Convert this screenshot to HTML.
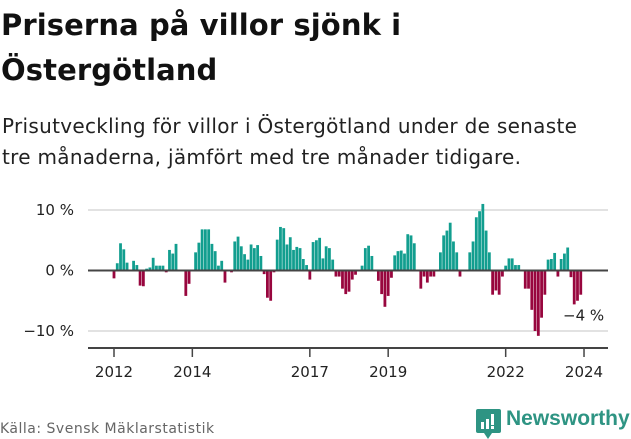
<!DOCTYPE html>
<html><head><meta charset="utf-8">
<style>
html,body{margin:0;padding:0;background:#fff;}
body{width:631px;height:439px;overflow:hidden;position:relative;font-family:"DejaVu Sans","Liberation Sans",sans-serif;color:#111;}
h1{position:absolute;left:1px;top:3px;margin:0;font-size:29px;line-height:45px;font-weight:bold;letter-spacing:0.1px;white-space:nowrap;}
.sub{position:absolute;left:2px;top:111px;margin:0;font-size:20px;line-height:31px;color:#222;letter-spacing:0.3px;white-space:nowrap;}
svg{position:absolute;left:0;top:0;}
.src{position:absolute;left:0;top:421px;font-size:14px;color:#666;letter-spacing:0.5px;}
.logo{position:absolute;left:476px;top:409px;}
.logo-text{position:absolute;left:506px;top:407px;font-size:21px;color:#2e9483;font-family:"Liberation Sans",sans-serif;font-weight:bold;}
</style></head><body>
<h1>Priserna på villor sjönk i<br>Östergötland</h1>
<p class="sub">Prisutveckling för villor i Östergötland under de senaste<br>tre månaderna, jämfört med tre månader tidigare.</p>
<svg id="chart" width="631" height="439"></svg>
<div class="src">Källa: Svensk Mäklarstatistik</div>
<svg class="logo" width="26" height="30">
<rect x="0" y="0" width="25" height="24" rx="2" fill="#2e9483"/>
<polygon points="8,24 16,24 12,30" fill="#2e9483"/>
<rect x="5" y="13" width="3" height="7" fill="#fff"/><rect x="10" y="10" width="3" height="10" fill="#fff"/><rect x="15" y="5" width="3" height="11" fill="#fff"/><rect x="15" y="17" width="3" height="3" fill="#fff"/>
</svg>
<div class="logo-text">Newsworthy</div>
<script>
const values = [-1.3,1.2,4.5,3.5,1.3,0,1.6,0.9,-2.5,-2.6,0.3,0.5,2.1,0.8,0.8,0.8,-0.3,3.4,2.8,4.4,0,0,-4.2,-2.2,0,3,4.6,6.8,6.8,6.8,4.4,3.2,0.8,1.6,-2,0,-0.3,4.8,5.6,4,2.7,1.8,4.3,3.7,4.2,2.4,-0.6,-4.5,-5,-0.3,5.1,7.2,7,4.3,5.5,3.4,3.9,3.7,1.9,0.9,-1.5,4.7,5,5.4,2,4,3.7,1.8,-1,-1,-3,-3.9,-3.5,-1.5,-0.7,0,0.8,3.7,4.1,2.4,0.1,-1.7,-3.9,-6,-4.2,-1.2,2.5,3.2,3.3,2.8,6,5.8,4.5,0,-3,-1,-2,-1,-1,0,3,5.8,6.6,7.9,4.8,3,-1,0,0,3,4.8,8.8,9.8,11,6.6,3,-4,-3.3,-4,-1,0.8,2,2,0.9,0.9,0,-3,-3,-6.5,-10,-10.8,-7.8,-4,1.8,1.9,2.9,-1,1.9,2.8,3.8,-1.1,-5.6,-5,-4];
const yTicks = [10,0,-10];
const yTickLabels = ["10 %","0 %","\u221210 %"];
const xTickYears = [2012,2014,2017,2019,2022,2024];
const lastLabel = "\u22124 %";
const NS="http://www.w3.org/2000/svg";
const svg=document.getElementById('chart');
const x0=114, step=3.264, zeroY=270.5, pxPer=6.05;
const xScale=i=>x0+step*i;
const yScale=v=>zeroY-pxPer*v;
function mk(tag,attrs){const e=document.createElementNS(NS,tag);for(const k in attrs)e.setAttribute(k,attrs[k]);svg.appendChild(e);return e;}
yTicks.forEach((t,k)=>{
  const y=yScale(t);
  if(t!==0){const g=mk('line',{x1:88,x2:608,y1:y,y2:y,stroke:'#e2e2e2','stroke-width':2});
  
  }
  const tx=mk('text',{x:74,y:y+5,'text-anchor':'end','font-size':15,fill:'#222'});
  tx.textContent=yTickLabels[k];
  
  
});
values.forEach((v,i)=>{
  const cx=xScale(i), y=yScale(v);
  const r=mk('rect',{x:cx-1.4,y:Math.min(y,zeroY),width:2.8,height:Math.abs(y-zeroY),fill:v>=0?'#129e8f':'#98063e'});
  
  
});
const z=mk('line',{x1:88,x2:608,y1:zeroY,y2:zeroY,stroke:'#444','stroke-width':2});


const ax=mk('line',{x1:88,x2:608,y1:348,y2:348,stroke:'#444','stroke-width':2});


xTickYears.forEach(yr=>{
  const x=xScale((yr-2012)*12);
  const t=mk('line',{x1:x,x2:x,y1:348,y2:357,stroke:'#444','stroke-width':1.5});
  
  
  const l=mk('text',{x:x,y:377,'text-anchor':'middle','font-size':15,fill:'#222'});
  l.textContent=yr;
  
  
});
const lv=values[values.length-1];
const ll=mk('text',{x:563,y:yScale(lv)+26,'font-size':15,fill:'#222'});
ll.textContent=lastLabel;


</script>
</body></html>
